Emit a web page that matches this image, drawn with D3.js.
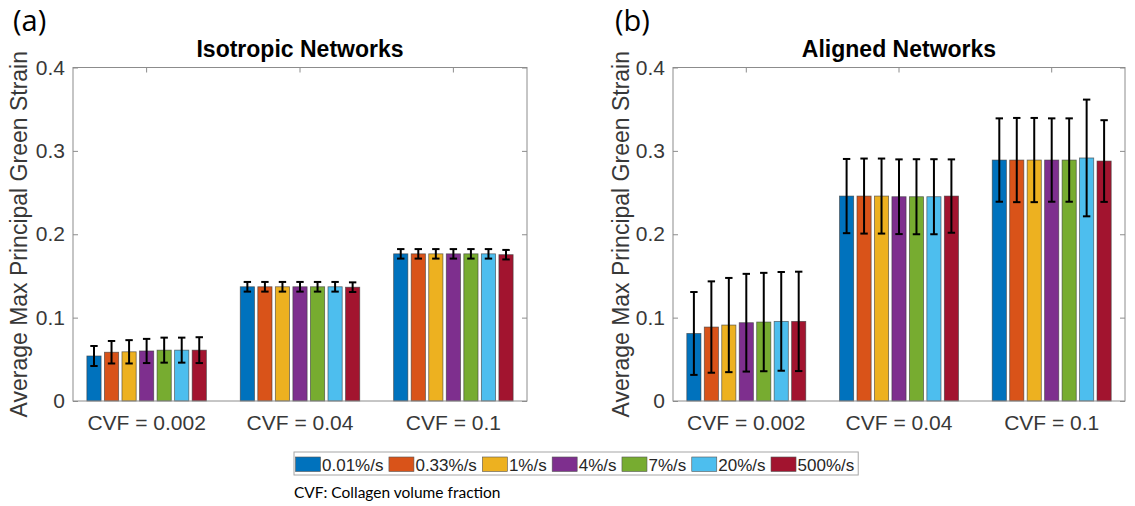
<!DOCTYPE html>
<html>
<head>
<meta charset="utf-8">
<script src="https://cdn.jsdelivr.net/npm/d3@7"></script>
<style>
  html, body { margin: 0; padding: 0; background: #fff; }
  svg { display: block; }
</style>
</head>
<body>
<svg id="chart" width="1135" height="506"></svg>
<script>
// ---------------- data ----------------
const categories = ["CVF = 0.002", "CVF = 0.04", "CVF = 0.1"];
const rates = ["0.01%/s", "0.33%/s", "1%/s", "4%/s", "7%/s", "20%/s", "500%/s"];
const rateColors = ["#0072BD", "#D95319", "#EDB120", "#7E2F8E", "#77AC30", "#4DBEEE", "#A2142F"];
const yTicks = [0, 0.1, 0.2, 0.3, 0.4];

// Isotropic networks: mean and error, one row per category, one value per rate
const isoMean = [
  [0.054, 0.0585, 0.059, 0.060, 0.061, 0.061, 0.061],
  [0.137, 0.137, 0.137, 0.137, 0.137, 0.137, 0.1365],
  [0.1765, 0.1765, 0.1765, 0.1765, 0.1765, 0.1765, 0.1755]
];
const isoErr = [
  [0.012, 0.0135, 0.014, 0.0145, 0.015, 0.015, 0.0155],
  [0.0058, 0.0058, 0.0058, 0.0058, 0.0058, 0.0058, 0.0058],
  [0.0057, 0.0057, 0.0057, 0.0057, 0.0057, 0.0057, 0.0057]
];
// Aligned networks
const alnMean = [
  [0.081, 0.0887, 0.0911, 0.0939, 0.0947, 0.0955, 0.0955],
  [0.2458, 0.2458, 0.2458, 0.245, 0.245, 0.245, 0.2458],
  [0.289, 0.289, 0.289, 0.289, 0.289, 0.2915, 0.2878]
];
const alnErr = [
  [0.0497, 0.0548, 0.0565, 0.0586, 0.059, 0.0592, 0.0596],
  [0.0445, 0.045, 0.045, 0.0448, 0.045, 0.045, 0.044],
  [0.050, 0.0505, 0.0505, 0.050, 0.050, 0.070, 0.049]
];

const panels = [
  { tag: "(a)", title: "Isotropic Networks", mean: isoMean, err: isoErr, x0: 73, x1: 527, labelX: 19, tagX: 13 },
  { tag: "(b)", title: "Aligned Networks", mean: alnMean, err: alnErr, x0: 673, x1: 1125, labelX: 621, tagX: 615 }
];

const yLabel = "Average Max Principal Green Strain";
const footnote = "CVF: Collagen volume fraction";

// ---------------- drawing ----------------
const svg = d3.select("#chart");
const plotTop = 67.5, plotBottom = 401;
const axisFont = "'Liberation Sans', Arial, Helvetica, sans-serif";
const noteFont = "Lato, 'Open Sans', sans-serif";
const axisGray = "#8c8c8c";
const textGray = "#383838";

const y = d3.scaleLinear().domain([0, 0.4]).range([plotBottom, plotTop]);

panels.forEach(p => {
  const g = svg.append("g");
  const x = d3.scaleBand().domain(categories).range([p.x0, p.x1])
    .paddingInner(0.221).paddingOuter(0.0905);
  const xs = d3.scaleBand().domain(d3.range(rates.length)).range([0, x.bandwidth()])
    .paddingInner(0.19).paddingOuter(0);

  const rows = [];
  categories.forEach((c, ci) => {
    rates.forEach((r, ri) => {
      rows.push({ c, ri, v: p.mean[ci][ri], e: p.err[ci][ri] });
    });
  });

  g.selectAll("rect.bar").data(rows).join("rect")
    .attr("class", "bar")
    .attr("x", d => x(d.c) + xs(d.ri))
    .attr("width", xs.bandwidth())
    .attr("y", d => y(d.v))
    .attr("height", d => y(0) - y(d.v))
    .attr("fill", d => rateColors[d.ri])
    .attr("stroke", "#3a3a3a")
    .attr("stroke-opacity", 0.7)
    .attr("stroke-width", 0.8);

  const cx = d => x(d.c) + xs(d.ri) + xs.bandwidth() / 2;
  const eb = g.selectAll("g.eb").data(rows).join("g").attr("class", "eb")
    .attr("stroke", "#000").attr("stroke-width", 2);
  eb.append("line")
    .attr("x1", cx).attr("x2", cx)
    .attr("y1", d => y(d.v + d.e)).attr("y2", d => y(d.v - d.e));
  eb.append("line")
    .attr("x1", d => cx(d) - 3.7).attr("x2", d => cx(d) + 3.7)
    .attr("y1", d => y(d.v + d.e)).attr("y2", d => y(d.v + d.e));
  eb.append("line")
    .attr("x1", d => cx(d) - 3.7).attr("x2", d => cx(d) + 3.7)
    .attr("y1", d => y(d.v - d.e)).attr("y2", d => y(d.v - d.e));

  const left = g.append("g").attr("transform", `translate(${p.x0},0)`)
    .call(d3.axisLeft(y).tickValues(yTicks).tickSize(-5).tickPadding(8)
      .tickFormat(d => d === 0 ? "0" : d3.format(".1f")(d)));
  const right = g.append("g").attr("transform", `translate(${p.x1},0)`)
    .call(d3.axisRight(y).tickValues(yTicks).tickSize(-5).tickFormat(""));
  const bot = g.append("g").attr("transform", `translate(0,${plotBottom})`)
    .call(d3.axisBottom(x).tickSize(-5).tickPadding(14));
  const tp = g.append("g").attr("transform", `translate(0,${plotTop})`)
    .call(d3.axisTop(x).tickSize(-5).tickFormat(""));

  [left, right, bot, tp].forEach(a => {
    a.select(".domain").remove();
    a.selectAll(".tick line").attr("stroke", axisGray).attr("stroke-width", 1);
    a.selectAll(".tick text").attr("fill", textGray)
      .style("font-family", axisFont).style("font-size", "21px");
  });
  bot.selectAll(".tick line").remove();

  g.append("rect")
    .attr("x", p.x0).attr("y", plotTop)
    .attr("width", p.x1 - p.x0).attr("height", plotBottom - plotTop)
    .attr("fill", "none").attr("stroke", axisGray).attr("stroke-width", 1);

  g.append("text")
    .attr("x", (p.x0 + p.x1) / 2).attr("y", 57)
    .attr("text-anchor", "middle")
    .style("font-family", axisFont).style("font-size", "23px").style("font-weight", "bold")
    .attr("fill", "#000")
    .text(p.title);

  g.append("text")
    .attr("transform", `translate(${p.labelX + 8},${(plotTop + plotBottom) / 2}) rotate(-90)`)
    .attr("text-anchor", "middle")
    .style("font-family", axisFont).style("font-size", "23px")
    .attr("fill", textGray)
    .text(yLabel);

  g.append("text")
    .attr("x", p.tagX).attr("y", 31)
    .style("font-family", "'Open Sans', sans-serif").style("font-size", "29px")
    .attr("fill", "#000")
    .text(p.tag);
});

// legend
const lg = svg.append("g");
const lgX = 294, lgY = 452, lgH = 23;
let cursor = lgX + 1.5;
rates.forEach((r, i) => {
  const it = lg.append("g");
  it.append("rect")
    .attr("x", cursor).attr("y", lgY + 5)
    .attr("width", 25).attr("height", 14.5)
    .attr("fill", rateColors[i]).attr("stroke", "#555").attr("stroke-width", 0.6);
  const t = it.append("text")
    .attr("x", cursor + 26.5).attr("y", lgY + 19)
    .style("font-family", axisFont).style("font-size", "17px")
    .attr("fill", "#262626")
    .text(r);
  const w = t.node().getComputedTextLength();
  cursor = cursor + 26.5 + w + 5.5;
});
lg.insert("rect", ":first-child")
  .attr("x", lgX).attr("y", lgY)
  .attr("width", cursor - lgX - 1.5).attr("height", lgH)
  .attr("fill", "#fff").attr("stroke", "#a6a6a6").attr("stroke-width", 1);

svg.append("text")
  .attr("x", 294).attr("y", 498)
  .style("font-family", noteFont).style("font-size", "15.5px")
  .attr("fill", "#000")
  .text(footnote);
</script>
</body>
</html>
